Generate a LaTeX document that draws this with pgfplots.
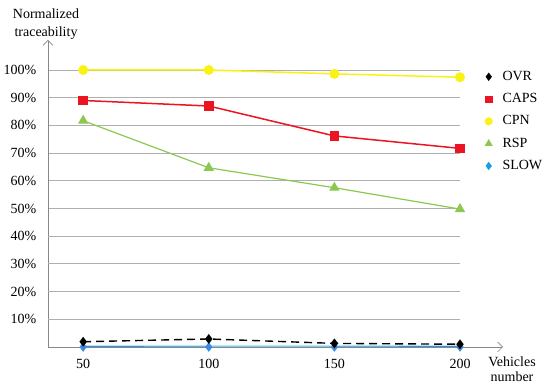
\documentclass[border=0pt]{standalone}
\usepackage{pgfplots}
\pgfplotsset{compat=1.18}
\usepackage{fontspec}
\setmainfont{Liberation Serif}
\usetikzlibrary{arrows.meta}
\definecolor{cred}{RGB}{235,20,35}
\definecolor{cyellow}{RGB}{250,242,20}
\definecolor{cgreen}{RGB}{140,200,80}
\definecolor{cblue}{RGB}{60,140,230}
\definecolor{clegblue}{RGB}{20,160,230}
\definecolor{ccyan}{RGB}{175,235,250}
\definecolor{gridgray}{RGB}{175,175,175}
\definecolor{axisgray}{RGB}{135,135,135}
\begin{document}
\begin{tikzpicture}
\useasboundingbox (0pt,0pt) rectangle (550pt,391pt);
\begin{axis}[
  at={(48pt,44pt)}, anchor=south west,
  scale only axis, width=412pt, height=277pt,
  xmin=36, xmax=200, ymin=0, ymax=100,
  clip mode=individual,
  axis x line=bottom, axis y line=left,
  axis line style={draw=axisgray, line width=0.7pt},
  x axis line style={-{Straight Barb[length=5pt,width=10pt]}, shorten >=-43pt},
  y axis line style={-{Straight Barb[length=5pt,width=10pt]}, shorten >=-30pt},
  xtick={50,100,150,200}, xticklabels={50,100,150,200},
  ytick={50,60,70,80,90,100},
  extra y ticks={10,20,30,40},
  yticklabel={\pgfmathprintnumber{\tick}\%},
  /pgf/number format/assume math mode=true,
  major tick style={draw opacity=0},
  ymajorgrids, grid style={draw=gridgray, line width=0.8pt, draw opacity=1},
  extra y tick style={grid=major, major tick style={draw opacity=0},
    major grid style={draw=gridgray, line width=0.8pt, draw opacity=1}},
  tick label style={font=\fontsize{14}{16}\selectfont},
  xticklabel style={yshift=-7pt},
  yticklabel style={xshift=-6pt},
  legend style={draw=none, fill=none, at={(1.06,1.007)}, anchor=north west,
    inner sep=0pt, row sep=5.3pt, font=\fontsize{14}{16}\selectfont,
    nodes={text height=10pt, text depth=3pt, inner sep=2pt},
    /tikz/every odd column/.append style={column sep=8pt}},
  legend cell align=left,
]
\addplot[cyellow, line width=1.5pt, mark=*, mark size=4.2pt, forget plot]
  coordinates {(50,100)(100,100)(150,98.6)(200,97.4)};
\addplot[cred, line width=1.5pt, mark=square*, mark size=4pt, forget plot]
  coordinates {(50,89.0)(100,87.0)(150,76.2)(200,71.7)};
\addplot[cgreen, line width=1.2pt, mark=triangle*, mark size=4.8pt, forget plot]
  coordinates {(50,81.7)(100,64.7)(150,57.5)(200,49.8)};
\addplot[ccyan, line width=3.5pt, forget plot]
  coordinates {(50,0)(100,0)(150,0)(200,0)};
\addplot[cblue, line width=1pt, mark=diamond*, mark size=4pt, forget plot]
  coordinates {(50,0)(100,0)(150,0)(200,0)};
\addplot[black, line width=1.4pt, dash pattern=on 8pt off 5pt, mark=diamond*, mark size=3.8pt, mark options={solid}, forget plot]
  coordinates {(50,1.9)(100,2.9)(150,1.3)(200,1.0)};
\addlegendimage{only marks, mark=diamond*, mark size=3.8pt, black}
\addlegendentry{OVR}
\addlegendimage{only marks, mark=square*, mark size=3.3pt, cred}
\addlegendentry{CAPS}
\addlegendimage{only marks, mark=*, mark size=3.8pt, cyellow}
\addlegendentry{CPN}
\addlegendimage{only marks, mark=triangle*, mark size=4.2pt, cgreen}
\addlegendentry{RSP}
\addlegendimage{only marks, mark=diamond*, mark size=3.8pt, clegblue}
\addlegendentry{SLOW}
\end{axis}
\node[align=center, font=\fontsize{14}{18}\selectfont] at (46pt,367pt) {Normalized\\traceability};
\node[align=center, font=\fontsize{14}{15}\selectfont] at (512pt,22pt) {Vehicles\\number};
\end{tikzpicture}
\end{document}
